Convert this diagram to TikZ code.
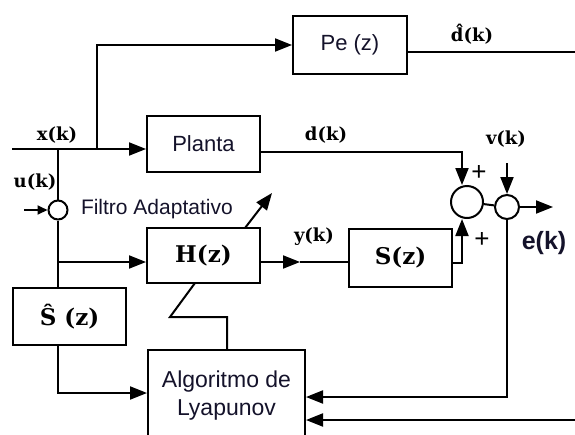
\documentclass[tikz,border=0pt]{standalone}
\usepackage{fontspec}
\setmainfont{Liberation Sans}
\newfontfamily\serifb{DejaVu Serif}
\usetikzlibrary{arrows.meta}
\definecolor{txt}{HTML}{14122A}
\begin{document}
\begin{tikzpicture}[x=1pt,y=-1pt,
  line width=2pt,
  blk/.style={draw, line width=2pt, inner sep=0pt},
  sumc/.style={circle, draw, line width=2pt, inner sep=0pt},
  arr/.style={-{Triangle[length=17pt,width=13pt]}},
  sarr/.style={-{Triangle[length=10pt,width=9pt]}},
  sanst/.style={font=\fontsize{22}{24}\selectfont, text=txt},
  lab/.style={font=\serifb\bfseries\fontsize{18}{20}\selectfont, inner sep=0pt},
  big/.style={font=\serifb\bfseries\fontsize{23}{25}\selectfont}]
\useasboundingbox (0,0) rectangle (575,434);
\clip (0,0) rectangle (575,434);
% blocks
\node[blk, minimum width=114pt, minimum height=58pt, sanst] (pe) at (350,45) {Pe (z)};
\node[blk, minimum width=113pt, minimum height=56pt, sanst] (planta) at (203.5,144) {Planta};
\node[blk, minimum width=113pt, minimum height=55pt, big] (hz) at (203.5,255.5) {H(z)};
\node[blk, minimum width=103pt, minimum height=58pt, big] (sz) at (400.5,258) {S(z)};
\node[blk, minimum width=113pt, minimum height=57pt, big] (shat) at (69.5,316.5) {\^{S} (z)};
\node[blk, minimum width=157pt, minimum height=92pt, sanst, align=center,
      font=\fontsize{23}{28}\selectfont] (algo) at (226.5,396) {Algoritmo de\\Lyapunov};
% sums
\node[sumc, minimum size=32pt] (sum1) at (467,202) {};
\node[sumc, minimum size=24pt] (sum2) at (507,207) {};
\node[sumc, minimum size=19pt] (sumu) at (58,210) {};
% coordinates
\coordinate (xin) at (12,149);
\coordinate (bx) at (97,149);
\coordinate (ux) at (58,149);
\coordinate (dhatend) at (580,52);
\coordinate (dout) at (260,152);
\coordinate (sout) at (452,263);
\coordinate (vin) at (507,163);
\coordinate (eout) at (553,207);
\coordinate (ecorner) at (507,397);
\coordinate (fb) at (580,420);
\coordinate (uin) at (24,210);
\coordinate (hbr) at (58,262);
\coordinate (ymid) at (300,262);
\coordinate (sho) at (58,393);
\coordinate (z1) at (195,283);
\coordinate (z2) at (170,317);
\coordinate (z3) at (227,317);
\coordinate (fa1) at (245,228);
\coordinate (fa2) at (272,193);
% connectors
\draw[arr] (xin) -- (xin -| planta.west);
\draw[arr] (bx) |- (pe.west);
\draw (pe.east |- dhatend) -- (dhatend);
\draw[arr] (dout) -| ([xshift=-5pt]sum1.north);
\draw[arr] (sout) -| ([xshift=-5pt]sum1.south);
\draw[arr] (vin) -- (sum2.north);
\draw (sum1) -- (sum2);
\draw[arr] (sum2.east) -- (eout);
\draw[arr] (sum2.south) -- (ecorner) -- (ecorner -| algo.east);
\draw[arr] (fb) -- (fb -| algo.east);
\draw[sarr] (uin) -- (sumu.west);
\draw (ux) -- (sumu.north);
\draw (sumu.south) -- (sumu.south |- shat.north);
\draw[arr] (hbr) -- (hbr -| hz.west);
\draw[arr] (hz.east |- ymid) -- (ymid);
\draw (ymid) -- (ymid -| sz.west);
\draw[arr] (shat.south -| sho) -- (sho) -- (sho -| algo.west);
\draw (z1) -- (z2) -- (z3) -- (z3 |- algo.north);
\draw[arr] (fa1) -- (fa2);
% labels
\node[lab] (lx) at (57,135) {x(k)};
\node[lab] (lu) at (35,182) {u(k)};
\node[lab] (ld) at (326,135) {d(k)};
\node[lab] (lv) at (506,139) {v(k)};
\node[lab] (ly) at (314,237) {y(k)};
\node[lab] (ldh) at (472,34) {\^{d}(k)};
\node[sanst, font=\fontsize{21}{23}\selectfont, anchor=west, inner sep=0pt] (lfa) at (80,209) {Filtro Adaptativo};
\node[sanst, font=\bfseries\fontsize{25}{27}\selectfont, inner sep=0pt] (le) at (544,243) {e(k)};
\node[font=\fontsize{26}{26}\selectfont, inner sep=0pt] (p1) at (479,173) {+};
\node[font=\fontsize{26}{26}\selectfont, inner sep=0pt] (p2) at (482,240) {+};
\end{tikzpicture}
\end{document}
